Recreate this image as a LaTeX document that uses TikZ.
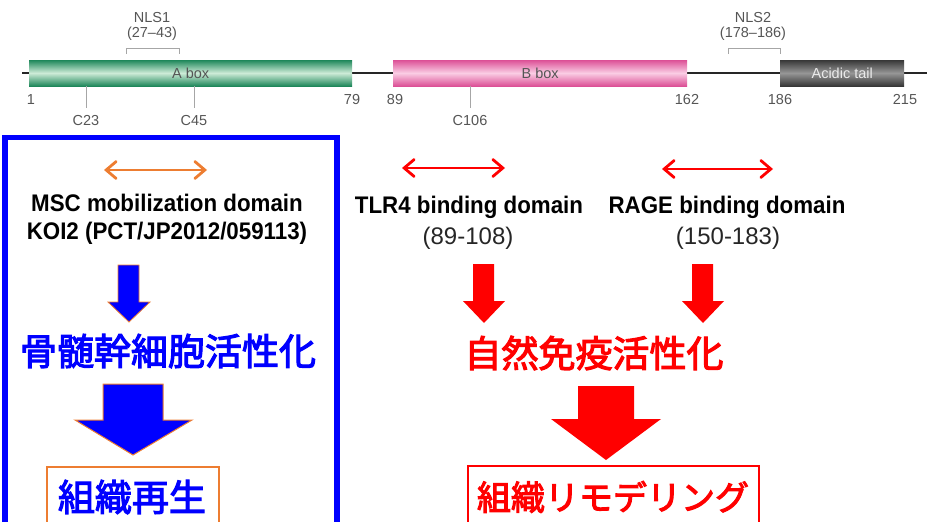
\documentclass[tikz,border=0pt]{standalone}
\usepackage{fontspec}
\setmainfont{Liberation Sans}
\newfontfamily\cjk[FakeBold=3]{Noto Sans CJK JP}
\usetikzlibrary{arrows.meta}
\definecolor{grn}{RGB}{30,135,90}
\definecolor{grnl}{RGB}{205,235,215}
\definecolor{pnk}{RGB}{220,80,150}
\definecolor{pnkl}{RGB}{250,205,228}
\definecolor{dgr}{RGB}{55,55,55}
\definecolor{dgrl}{RGB}{150,150,150}
\definecolor{lbl}{RGB}{85,85,85}
\definecolor{org}{RGB}{237,125,49}
\definecolor{myblue}{RGB}{0,0,255}
\definecolor{myred}{RGB}{255,0,0}
\tikzset{
  lab/.style={text=lbl, font=\fontsize{14.5}{14.5}\selectfont, inner sep=0pt},
  tick/.style={draw=black!35, line width=0.9pt},
  dom/.style={draw=none, inner sep=0pt, minimum height=26pt, anchor=west},
  dbl/.style={line width=2.8pt, {Straight Barb[length=10pt,width=17pt,line cap=round]}-{Straight Barb[length=10pt,width=17pt,line cap=round]}},
  ttl/.style={font=\fontsize{24}{24}\selectfont\bfseries, inner sep=0pt, xscale=0.93},
  rng/.style={font=\fontsize{24}{24}\selectfont, inner sep=0pt, text=black!85},
  jp/.style={font=\fontsize{37}{37}\selectfont\cjk, inner sep=0pt},
}
\begin{document}
\begin{tikzpicture}[x=1pt,y=-1pt]
\useasboundingbox (0,0) rectangle (937,522);
% backbone
\coordinate (L0) at (22,73);
\coordinate (L1) at (927,73);
\draw[line width=2pt, black!85] (L0) -- (L1);
% domains
\node[dom, minimum width=323pt, top color=grn, bottom color=grn, middle color=grnl] (abox) at (29,73) {};
\node[dom, minimum width=294pt, top color=pnk, bottom color=pnk, middle color=pnkl] (bbox) at (393,73) {};
\node[dom, minimum width=124pt, top color=dgr, bottom color=dgr, middle color=dgrl] (atail) at (780,73) {};
\node[lab] (at) at (abox.center) {A box};
\node[lab] (bt) at (bbox.center) {B box};
\node[lab, text=white!92!black] (tt) at (atail.center) {Acidic tail};
% position numbers
\node[lab] (n1) at (31,100) {1};
\node[lab] (n79) at (352,100) {79};
\node[lab] (n89) at (395,100) {89};
\node[lab] (n162) at (687,100) {162};
\node[lab] (n186) at (780,100) {186};
\node[lab] (n215) at (905,100) {215};
% cysteines
\node[lab] (c23) at (86,121) {C23};
\node[lab] (c45) at (194,121) {C45};
\node[lab] (c106) at (470,121) {C106};
\coordinate (t23) at (86,86);
\coordinate (t45) at (194,86);
\coordinate (t106) at (470,86);
\draw[tick] (t23) -- (86,108);
\draw[tick] (t45) -- (194,108);
\draw[tick] (t106) -- (470,108);
% NLS
\node[lab] (nls1) at (152,18) {NLS1};
\node[lab] (nls1r) at (152,34) {(27–43)};
\node[lab] (nls2) at (753,18) {NLS2};
\node[lab] (nls2r) at (753,34) {(178–186)};
\draw[tick] (126,54) -- (126,48) -- (179,48) -- (179,54);
\draw[tick] (728,54) -- (728,48) -- (780,48) -- (780,54);
% blue frame
\draw[myblue, line width=5.5pt] (5,540) -- (5,137.5) -- (337,137.5) -- (337,540);
% MSC column
\coordinate (oa1) at (104,170);
\coordinate (oa2) at (207,170);
\draw[dbl, org] (oa1) -- (oa2);
\node[ttl] (msc) at (167,203) {MSC mobilization domain};
\node[ttl] (koi) at (167,233) {KOI2 (PCT/JP2012/059113)};
\draw[fill=myblue, draw=org, line width=0.8pt] (118,265) -- (139,265) -- (139,302) -- (150,302) -- (129,322) -- (108,302) -- (118,302) -- cycle;
\node[jp, text=myblue] (bm) at (168,351) {骨髄幹細胞活性化};
\draw[fill=myblue, draw=org, line width=1pt] (103,384) -- (163,384) -- (163,420) -- (192,420) -- (133,455) -- (75,420) -- (103,420) -- cycle;
\draw[org, line width=1.5pt] (47,540) -- (47,467) -- (219,467) -- (219,540);
\node[jp, text=myblue] (regen) at (132,497) {組織再生};
% TLR4 / RAGE
\coordinate (ra1) at (402,168);
\coordinate (ra2) at (505,168);
\coordinate (rb1) at (662,169);
\coordinate (rb2) at (773,169);
\draw[dbl, myred] (ra1) -- (ra2);
\draw[dbl, myred] (rb1) -- (rb2);
\node[ttl] (tlr) at (469,207) {TLR4 binding domain};
\node[rng] (tlrr) at (468,238) {(89-108)};
\node[ttl] (rage) at (727,207) {RAGE binding domain};
\node[rng] (rager) at (728,238) {(150-183)};
\fill[myred] (473,264) -- (494,264) -- (494,301) -- (505,301) -- (484,323) -- (463,301) -- (473,301) -- cycle;
\fill[myred] (692,264) -- (713,264) -- (713,301) -- (724,301) -- (703,323) -- (682,301) -- (692,301) -- cycle;
\node[jp, text=myred] (innate) at (594,353) {自然免疫活性化};
\fill[myred] (578,386) -- (634,386) -- (634,419) -- (661,419) -- (606,460) -- (551,419) -- (578,419) -- cycle;
\draw[myred, line width=1.8pt] (468,540) -- (468,466) -- (759,466) -- (759,540);
\node[jp, text=myred, font=\fontsize{34}{34}\selectfont\cjk] (remod) at (613,497) {組織リモデリング};
\end{tikzpicture}
\end{document}
